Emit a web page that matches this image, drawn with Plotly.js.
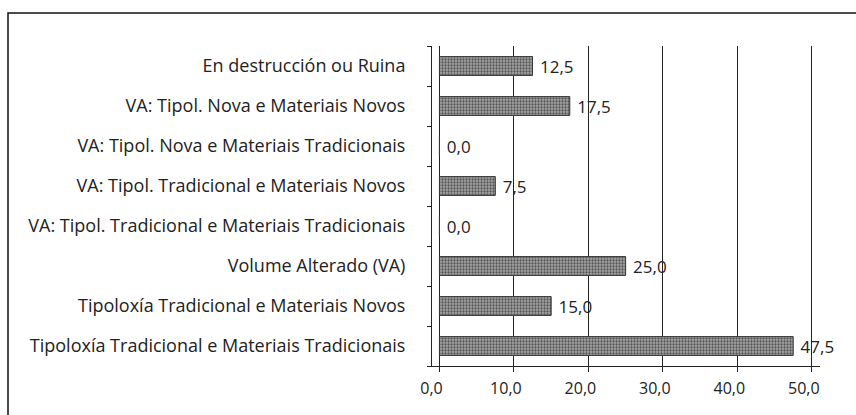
<!DOCTYPE html>
<html><head><meta charset="utf-8">
<script src="https://cdn.plot.ly/plotly-3.0.1.min.js"></script>
<style>body{margin:0;background:#fff}#c{width:856px;height:415px}</style>
</head><body><div id="c"></div>
<script>
const categories = [
  "Tipoloxía Tradicional e Materiais Tradicionais",
  "Tipoloxía Tradicional e Materiais Novos",
  "Volume Alterado (VA)",
  "VA: Tipol. Tradicional e Materiais Tradicionais",
  "VA: Tipol. Tradicional e Materiais Novos",
  "VA: Tipol. Nova e Materiais Tradicionais",
  "VA: Tipol. Nova e Materiais Novos",
  "En destrucción ou Ruina"
];
const values = [47.5, 15.0, 25.0, 0.0, 7.5, 0.0, 17.5, 12.5];
const xTicks = [0, 10, 20, 30, 40, 50];

const FONT = '"Open Sans", sans-serif';

const trace = {
  type: 'bar', orientation: 'h',
  y: categories, x: values,
  width: 0.47,
  marker: {
    color: '#999',
    line: {color: '#333', width: 1},
    pattern: {shape: '.', fgcolor: '#555', bgcolor: '#a6a6a6', size: 3, solidity: 0.45}
  },
  text: values, texttemplate: '\u00a0%{x:.1f}', textposition: 'outside', cliponaxis: false,
  constraintext: 'none',
  textfont: {family: FONT, size: 17, color: '#222'},
  hoverinfo: 'none'
};

const plotW = 856 - 432 - 36;
const layout = {
  width: 856, height: 415,
  margin: {l: 432, r: 36, t: 46, b: 49},
  paper_bgcolor: '#fff', plot_bgcolor: '#fff',
  separators: ',.',
  showlegend: false,
  font: {family: FONT, size: 17, color: '#222'},
  xaxis: {
    range: [-1, 51.1], tickvals: xTicks, tickformat: '.1f',
    showgrid: true, gridcolor: '#222', gridwidth: 1, zeroline: false,
    showline: true, linecolor: '#222', linewidth: 1,
    ticks: 'outside', ticklen: 5, tickcolor: '#222',
    ticklabelshift: -8, ticklabelstandoff: 3,
    tickfont: {family: FONT, size: 16, color: '#222'}
  },
  yaxis: {
    type: 'category', showgrid: false, zeroline: false,
    showline: true, linecolor: '#222', linewidth: 1,
    ticks: 'outside', tickson: 'boundaries', ticklen: 4, tickcolor: '#222',
    ticklabelstandoff: 22,
    tickfont: {family: FONT, size: 18, color: '#222'}
  },
  shapes: [{
    type: 'rect', xref: 'paper', yref: 'paper',
    x0: -(432 - 8) / plotW, x1: 1.3, y0: -0.3, y1: 1 + (46 - 13) / 320,
    line: {color: '#111', width: 1.5}, fillcolor: 'rgba(0,0,0,0)', layer: 'above'
  }]
};

Plotly.newPlot('c', [trace], layout, {displayModeBar: false, staticPlot: true});
</script>
</body></html>
